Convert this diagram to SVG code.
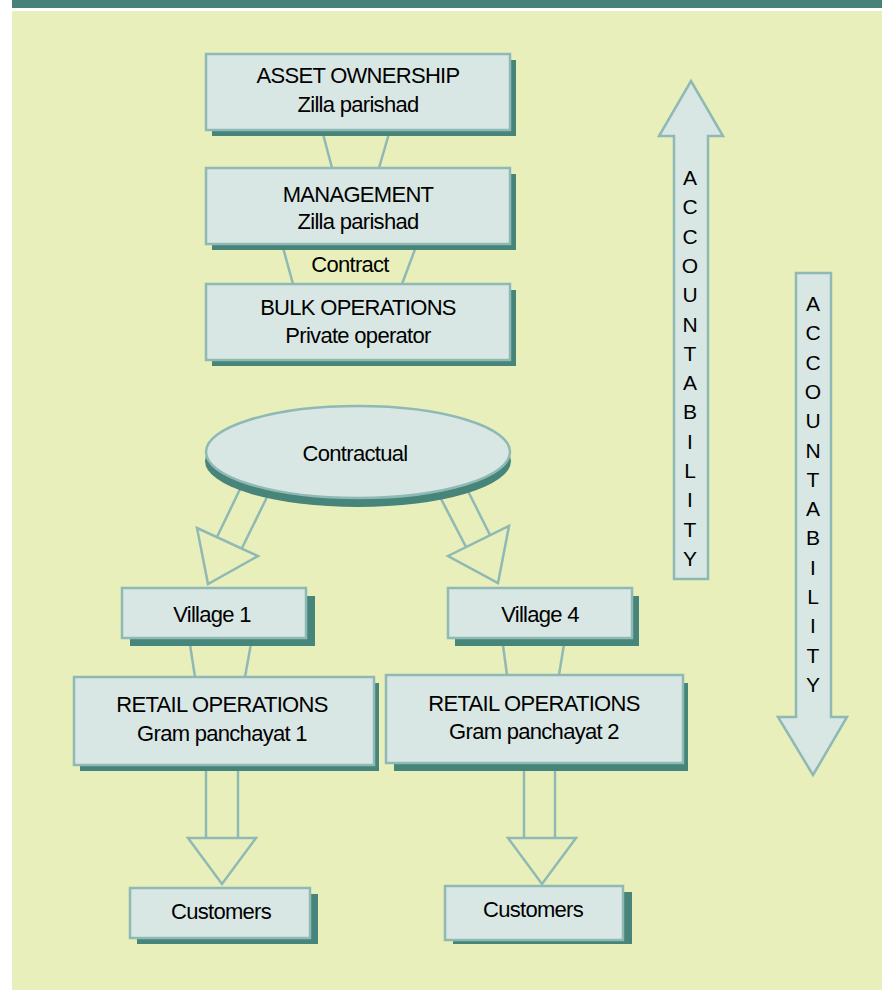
<svg xmlns="http://www.w3.org/2000/svg" width="882" height="990" viewBox="0 0 882 990">
<style>
.bx{fill:#d9e7e4;stroke:#8fb9b4;stroke-width:2.5}
.sh{fill:#478479}
.ln{stroke:#8fb9b4;stroke-width:2.5;fill:none}
.ar{fill:none;stroke:#8fb9b4;stroke-width:2.5;stroke-linejoin:miter}
.t{font-family:"Liberation Sans",Arial,sans-serif;font-size:22px;fill:#000;text-anchor:middle;letter-spacing:-0.7px}
.v{font-family:"Liberation Sans",Arial,sans-serif;font-size:21px;fill:#000;text-anchor:middle}
</style>
<rect x="0" y="0" width="882" height="990" fill="#ffffff"/>
<rect x="12" y="0" width="870" height="8" fill="#468278"/>
<rect x="12" y="11" width="870" height="979" fill="#e9efba"/>

<g id="connectors">
<line class="ln" x1="322" y1="130" x2="332" y2="168"/>
<line class="ln" x1="390" y1="130" x2="379" y2="168"/>
<line class="ln" x1="282" y1="244" x2="293" y2="284"/>
<line class="ln" x1="417" y1="244" x2="402" y2="284"/>
<text class="t" x="350" y="272">Contract</text>
<line class="ln" x1="242" y1="485" x2="217" y2="537"/>
<line class="ln" x1="269" y1="493" x2="242" y2="548"/>
<polygon class="ar" points="197,528 258,556 208,584"/>
<line class="ln" x1="438" y1="493" x2="466" y2="547"/>
<line class="ln" x1="466" y1="487" x2="490" y2="535"/>
<polygon class="ar" points="448,556 509,526 498,583"/>
<line class="ln" x1="189" y1="638" x2="195" y2="677"/>
<line class="ln" x1="252" y1="638" x2="245" y2="677"/>
<line class="ln" x1="502" y1="638" x2="507" y2="675"/>
<line class="ln" x1="565" y1="638" x2="559" y2="675"/>
<line class="ln" x1="206" y1="766" x2="206" y2="838"/>
<line class="ln" x1="238" y1="766" x2="238" y2="838"/>
<polygon class="ar" points="188,838 256,838 222,884"/>
<line class="ln" x1="524" y1="764" x2="524" y2="838"/>
<line class="ln" x1="555" y1="764" x2="555" y2="838"/>
<polygon class="ar" points="508,838 576,838 542,884"/>
</g>

<g id="asset">
<rect class="sh" x="212" y="60" width="304" height="76"/>
<rect class="bx" x="206" y="54" width="304" height="76"/>
<text class="t" x="358" y="83">ASSET OWNERSHIP</text>
<text class="t" x="358" y="112">Zilla parishad</text>
</g>
<g id="management">
<rect class="sh" x="212" y="174" width="304" height="76"/>
<rect class="bx" x="206" y="168" width="304" height="76"/>
<text class="t" x="358" y="202">MANAGEMENT</text>
<text class="t" x="358" y="229">Zilla parishad</text>
</g>
<g id="bulk">
<rect class="sh" x="212" y="290" width="304" height="76"/>
<rect class="bx" x="206" y="284" width="304" height="76"/>
<text class="t" x="358" y="315">BULK OPERATIONS</text>
<text class="t" x="358" y="343">Private operator</text>
</g>
<g id="contractual">
<ellipse class="sh" cx="358" cy="461" rx="153" ry="46"/>
<ellipse class="bx" cx="358" cy="452" rx="152" ry="46"/>
<text class="t" x="355" y="461">Contractual</text>
</g>
<g id="village1">
<rect class="sh" x="130" y="596" width="185" height="50"/>
<rect class="bx" x="122" y="588" width="184" height="50"/>
<text class="t" x="212" y="622">Village 1</text>
</g>
<g id="village4">
<rect class="sh" x="455" y="596" width="184" height="50"/>
<rect class="bx" x="448" y="588" width="184" height="50"/>
<text class="t" x="540" y="622">Village 4</text>
</g>
<g id="retail1">
<rect class="sh" x="80" y="683" width="299" height="88"/>
<rect class="bx" x="74" y="677" width="300" height="88"/>
<text class="t" x="222" y="712">RETAIL OPERATIONS</text>
<text class="t" x="222" y="741">Gram panchayat 1</text>
</g>
<g id="retail2">
<rect class="sh" x="394" y="683" width="294" height="88"/>
<rect class="bx" x="386" y="675" width="297" height="88"/>
<text class="t" x="534" y="711">RETAIL OPERATIONS</text>
<text class="t" x="534" y="739">Gram panchayat 2</text>
</g>
<g id="customers1">
<rect class="sh" x="137" y="894" width="181" height="50"/>
<rect class="bx" x="130" y="888" width="180" height="50"/>
<text class="t" x="221" y="919">Customers</text>
</g>
<g id="customers2">
<rect class="sh" x="453" y="892" width="179" height="52"/>
<rect class="bx" x="445" y="886" width="178" height="54"/>
<text class="t" x="533" y="917">Customers</text>
</g>
<g id="accountability-up">
<polygon class="bx" points="691,81 723,136 708,136 708,579 674,579 674,136 659,136"/>
<text class="v" x="690"><tspan x="690" y="185">A</tspan><tspan x="690" y="214">C</tspan><tspan x="690" y="244">C</tspan><tspan x="690" y="273">O</tspan><tspan x="690" y="302">U</tspan><tspan x="690" y="332">N</tspan><tspan x="690" y="361">T</tspan><tspan x="690" y="390">A</tspan><tspan x="690" y="419">B</tspan><tspan x="690" y="449">I</tspan><tspan x="690" y="478">L</tspan><tspan x="690" y="507">I</tspan><tspan x="690" y="537">T</tspan><tspan x="690" y="566">Y</tspan></text>
</g>
<g id="accountability-down">
<polygon class="bx" points="796,273 831,273 831,717 847,717 813,775 778,717 796,717"/>
<text class="v" x="813"><tspan x="813" y="311">A</tspan><tspan x="813" y="340">C</tspan><tspan x="813" y="370">C</tspan><tspan x="813" y="399">O</tspan><tspan x="813" y="428">U</tspan><tspan x="813" y="458">N</tspan><tspan x="813" y="487">T</tspan><tspan x="813" y="516">A</tspan><tspan x="813" y="545">B</tspan><tspan x="813" y="575">I</tspan><tspan x="813" y="604">L</tspan><tspan x="813" y="633">I</tspan><tspan x="813" y="663">T</tspan><tspan x="813" y="692">Y</tspan></text>
</g>
</svg>
